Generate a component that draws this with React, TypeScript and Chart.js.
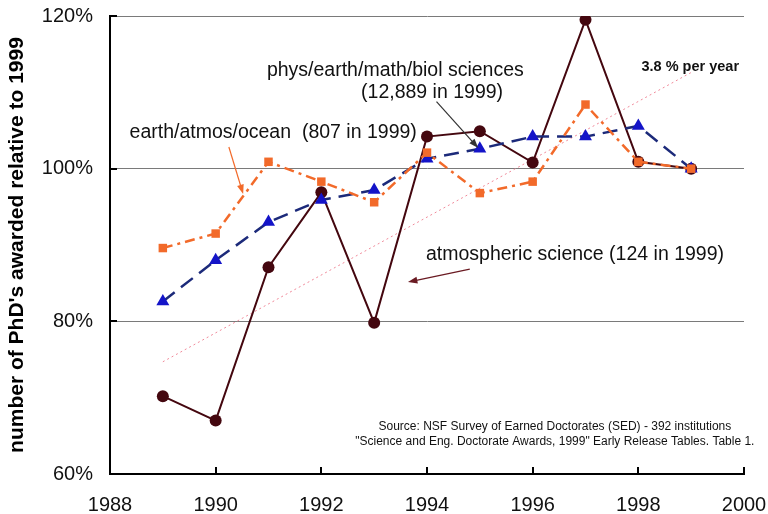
import React, { useEffect, useRef } from "react";
import { Chart, registerables } from "chart.js";

Chart.register(...registerables);

const years = [1989, 1990, 1991, 1992, 1993, 1994, 1995, 1996, 1997, 1998, 1999];
const atmosphericScience = [70.2, 67.0, 87.1, 96.9, 79.8, 104.2, 104.9, 100.8, 119.5, 100.9, 100.0];
const physEarthMathBiol = [82.6, 88.0, 93.0, 95.9, 97.2, 101.3, 102.6, 104.2, 104.2, 105.6, 100.0];
const earthAtmosOcean = [89.6, 91.5, 100.9, 98.3, 95.6, 102.1, 96.8, 98.3, 108.4, 100.9, 100.0];
const trendYears = [1989, 1999];
const trendValues = [74.7, 112.6];

const xTicks = [1988, 1990, 1992, 1994, 1996, 1998, 2000];
const yTicks = [60, 80, 100, 120];

// annotation texts, positioned in data units (year, percent)
const labelTexts = [
  "phys/earth/math/biol sciences",
  "(12,889 in 1999)",
  "earth/atmos/ocean  (807 in 1999)",
  "atmospheric science (124 in 1999)",
  "3.8 % per year",
  "Source: NSF Survey of Earned Doctorates (SED) - 392 institutions",
  "\"Science and Eng. Doctorate Awards, 1999\" Early Release Tables. Table 1.",
];
const labelX = [1990.97, 1995.44, 1988.37, 1993.98, 1998.06, 1996.42, 1996.42];
const labelY = [112.9, 110.0, 104.7, 88.7, 113.36, 66.15, 64.2];

const arrowFrom = [
  [1994.18, 108.77],
  [1990.25, 102.84],
  [1994.81, 86.85],
];
const arrowTo = [
  [1994.97, 102.7],
  [1990.52, 96.68],
  [1993.64, 85.15],
];

const FONT = "'Liberation Sans', Arial, Helvetica, sans-serif";
const MAROON = "#44070f";
const NAVY = "#1c2a7a";
const BLUE = "#1414c8";
const ORANGE = "#f26a2a";
const PINK = "#f08a9a";

const labelStyles = [
  { font: `19.5px ${FONT}`, align: "left", color: "#111" },
  { font: `19.5px ${FONT}`, align: "right", color: "#111" },
  { font: `19.5px ${FONT}`, align: "left", color: "#111" },
  { font: `19.5px ${FONT}`, align: "left", color: "#111" },
  { font: `bold 14.5px ${FONT}`, align: "left", color: "#111" },
  { font: `12px ${FONT}`, align: "center", color: "#111" },
  { font: `12px ${FONT}`, align: "center", color: "#111" },
];
const arrowColors = ["#333333", ORANGE, "#6a1a22"];

const annotationPlugin = {
  id: "annots",
  afterDraw(chart: any) {
    const ctx = chart.ctx;
    const xs = chart.scales.x;
    const ys = chart.scales.y;
    const area = chart.chartArea;
    ctx.save();
    // inward tick marks
    ctx.strokeStyle = "#000";
    ctx.lineWidth = 2;
    xTicks.forEach((t) => {
      const px = Math.round(xs.getPixelForValue(t));
      ctx.beginPath();
      ctx.moveTo(px, area.bottom);
      ctx.lineTo(px, area.bottom - 7);
      ctx.stroke();
    });
    yTicks.forEach((t) => {
      const py = Math.round(ys.getPixelForValue(t));
      ctx.beginPath();
      ctx.moveTo(area.left, py);
      ctx.lineTo(area.left + 7, py);
      ctx.stroke();
    });
    // labels
    ctx.textBaseline = "middle";
    labelTexts.forEach((txt, i) => {
      const st = labelStyles[i];
      ctx.font = st.font;
      ctx.fillStyle = st.color;
      ctx.textAlign = st.align as CanvasTextAlign;
      ctx.fillText(txt, xs.getPixelForValue(labelX[i]), ys.getPixelForValue(labelY[i]));
    });
    // arrows
    arrowFrom.forEach((f, i) => {
      const x1 = xs.getPixelForValue(f[0]);
      const y1 = ys.getPixelForValue(f[1]);
      const x2 = xs.getPixelForValue(arrowTo[i][0]);
      const y2 = ys.getPixelForValue(arrowTo[i][1]);
      const ang = Math.atan2(y2 - y1, x2 - x1);
      ctx.strokeStyle = arrowColors[i];
      ctx.fillStyle = arrowColors[i];
      ctx.lineWidth = 1.2;
      ctx.beginPath();
      ctx.moveTo(x1, y1);
      ctx.lineTo(x2 - 6 * Math.cos(ang), y2 - 6 * Math.sin(ang));
      ctx.stroke();
      const L = 10;
      const W = 0.35;
      ctx.beginPath();
      ctx.moveTo(x2, y2);
      ctx.lineTo(x2 - L * Math.cos(ang - W), y2 - L * Math.sin(ang - W));
      ctx.lineTo(x2 - L * Math.cos(ang + W), y2 - L * Math.sin(ang + W));
      ctx.closePath();
      ctx.fill();
    });
    ctx.restore();
  },
};

const toPoints = (xsArr: number[], ysArr: number[]) => xsArr.map((x, i) => ({ x, y: ysArr[i] }));

export default function App() {
  const ref = useRef<HTMLCanvasElement | null>(null);
  useEffect(() => {
    document.body.style.margin = "0";
    const canvas = ref.current;
    if (!canvas) return;
    const chart = new Chart(canvas, {
      type: "line",
      data: {
        datasets: [
          {
            label: "earth/atmos/ocean",
            data: toPoints(years, earthAtmosOcean),
            borderColor: ORANGE,
            backgroundColor: ORANGE,
            borderWidth: 2.5,
            borderDash: [10, 5, 3, 5],
            pointStyle: "rect",
            pointRadius: 6,
            pointBorderWidth: 0,
            order: 0,
          },
          {
            label: "phys/earth/math/biol sciences",
            data: toPoints(years, physEarthMathBiol),
            borderColor: NAVY,
            backgroundColor: BLUE,
            pointBackgroundColor: BLUE,
            borderWidth: 2.5,
            borderDash: [15, 8],
            pointStyle: "triangle",
            pointRadius: 7.5,
            pointBorderWidth: 0,
            order: 1,
          },
          {
            label: "atmospheric science",
            data: toPoints(years, atmosphericScience),
            borderColor: MAROON,
            backgroundColor: MAROON,
            borderWidth: 2,
            pointStyle: "circle",
            pointRadius: 6,
            pointBorderWidth: 0,
            order: 2,
          },
          {
            label: "trend",
            data: toPoints(trendYears, trendValues),
            borderColor: PINK,
            borderWidth: 1,
            borderDash: [2, 3],
            pointRadius: 0,
            order: 3,
          },
        ],
      },
      options: {
        animation: false,
        responsive: false,
        maintainAspectRatio: false,
        devicePixelRatio: 1,
        layout: { padding: { left: 0, top: 16, right: 24, bottom: 0 } },
        plugins: {
          legend: { display: false },
          tooltip: { enabled: false },
        },
        scales: {
          x: {
            type: "linear",
            min: 1988,
            max: 2000,
            afterFit: (s: any) => {
              s.height = 40;
              s.paddingLeft = 0;
              s.paddingRight = 0;
            },
            ticks: {
              stepSize: 2,
              padding: 19,
              color: "#111",
              font: { family: FONT, size: 20 },
              callback: (v: any) => String(v),
            },
            grid: { display: false, drawTicks: false },
            border: { display: true, color: "#000", width: 2 },
          },
          y: {
            type: "linear",
            min: 60,
            max: 120,
            afterFit: (s: any) => {
              s.width = 110;
              s.paddingTop = 0;
              s.paddingBottom = 0;
            },
            ticks: {
              stepSize: 20,
              padding: 17,
              color: "#111",
              font: { family: FONT, size: 20 },
              callback: (v: any) => v + "%",
            },
            grid: {
              drawTicks: false,
              color: (c: any) => (c.tick && c.tick.value === 60 ? "rgba(0,0,0,0)" : "#7a7a7a"),
              lineWidth: 1,
            },
            border: { display: true, color: "#000", width: 2 },
            title: {
              display: true,
              text: "number of PhD's awarded relative to 1999",
              color: "#000",
              font: { family: FONT, size: 21, weight: "bold" },
              padding: { top: 5, bottom: 4 },
            },
          },
        },
      },
      plugins: [annotationPlugin],
    } as any);
    return () => chart.destroy();
  }, []);
  return (
    <div style={{ width: 768, height: 514, position: "relative", background: "#fff" }}>
      <canvas ref={ref} width={768} height={514} style={{ width: 768, height: 514, display: "block" }} />
    </div>
  );
}
